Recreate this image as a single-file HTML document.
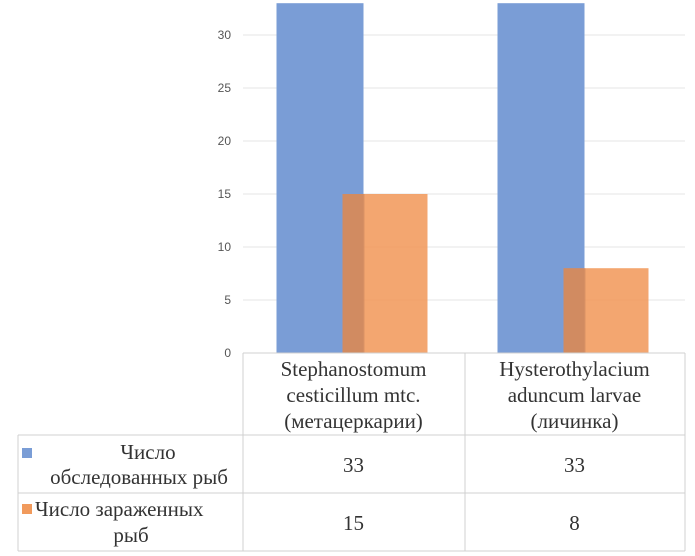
<!DOCTYPE html>
<html><head><meta charset="utf-8"><style>
body{margin:0;background:#fff;width:695px;height:556px;overflow:hidden}
svg{display:block}
.t{font-family:"Liberation Serif",serif;font-size:21px;fill:#333}
.tk{font-family:"Liberation Sans",sans-serif;font-size:12px;fill:#555}
</style></head><body>
<svg id="c" width="695" height="556"></svg>
<script>
const categories=["Stephanostomum|cesticillum mtc.|(метацеркарии)","Hysterothylacium|aduncum larvae|(личинка)"];
const examined=[33,33];
const infected=[15,8];
const ticks=[0,5,10,15,20,25,30];
const seriesNames=["Число|обследованных рыб","Число зараженных|рыб"];
const NS="http://www.w3.org/2000/svg";
const svg=document.getElementById('c');
function el(t,a,txt){const e=document.createElementNS(NS,t);for(const k in a)e.setAttribute(k,a[k]);if(txt!=null)e.textContent=txt;svg.appendChild(e);return e;}
const y0=353,ppu=10.6;
const y=v=>y0-v*ppu;
const colL=243,colW=221;
const cx=i=>colL+colW*i+colW/2;
ticks.forEach(t=>{
 if(t>0){const g=el('line',{x1:243,x2:685,y1:y(t),y2:y(t),stroke:'#e6e6e6'});
 
 }
 const l=el('text',{x:231,y:y(t)+4,'text-anchor':'end',class:'tk'},t);
 
 
});
categories.forEach((c,i)=>{
 const b=el('rect',{x:cx(i)-77,y:y(examined[i]),width:87,height:examined[i]*ppu,fill:'#7a9dd6'});
 
 
 const o=el('rect',{x:cx(i)-11,y:y(infected[i]),width:85,height:infected[i]*ppu,fill:'#f19a5c','fill-opacity':0.88});
 
 
 const ov=el('rect',{x:cx(i)-11,y:y(infected[i]),width:22,height:infected[i]*ppu,fill:'#b07050','fill-opacity':0.35});
 
 
});
const L=(x1,y1,x2,y2)=>{const l=el('line',{x1,y1,x2,y2,stroke:'#d0d0d0'});};
L(243,353,685,353);L(18,435,685,435);L(18,493,685,493);L(18,551,685,551);
L(243,353,243,551);L(465,353,465,551);L(685,353,685,551);L(18,435,18,551);
categories.forEach((c,i)=>{
 c.split('|').forEach((s,k)=>{const t=el('text',{x:cx(i),y:376+k*26,'text-anchor':'middle',class:'t'},s);
 
 });
 const a=el('text',{x:cx(i),y:472,'text-anchor':'middle',class:'t'},examined[i]);
 
 
 const b=el('text',{x:cx(i),y:530,'text-anchor':'middle',class:'t'},infected[i]);
 
 
});
const s1=el('rect',{x:22,y:448,width:10,height:10,fill:'#7a9dd6'});


const s2=el('rect',{x:22,y:504,width:10,height:10,fill:'#f19a5c'});


const n1=seriesNames[0].split('|');
let t1=el('text',{x:148,y:459,'text-anchor':'middle',class:'t'},n1[0]);


t1=el('text',{x:139,y:484,'text-anchor':'middle',class:'t'},n1[1]);


const n2=seriesNames[1].split('|');
let t2=el('text',{x:35,y:516,class:'t'},n2[0]);


t2=el('text',{x:131,y:542,'text-anchor':'middle',class:'t'},n2[1]);


</script>
</body></html>
